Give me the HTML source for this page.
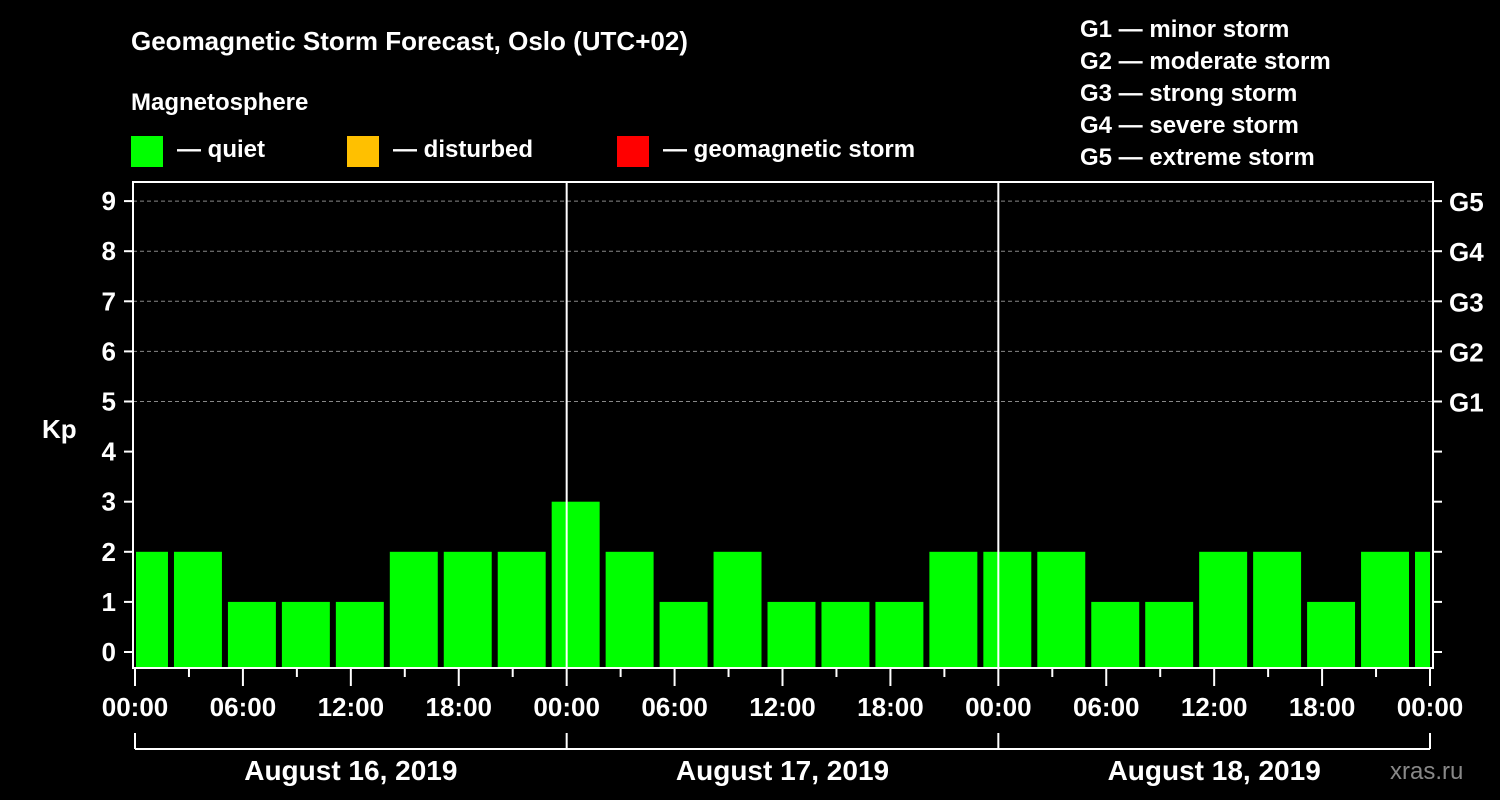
<!DOCTYPE html>
<html><head><meta charset="utf-8"><style>
body{margin:0;background:#000;}
svg{display:block;font-family:"Liberation Sans",Arial,sans-serif;font-weight:bold;}
</style></head><body>
<svg width="1500" height="800" viewBox="0 0 1500 800">
<rect width="1500" height="800" fill="#000"/>
<text x="131" y="50" font-size="26" fill="#fff">Geomagnetic Storm Forecast, Oslo (UTC+02)</text>
<text x="131" y="110" font-size="24" fill="#fff">Magnetosphere</text>
<g><rect x="131" y="136" width="32" height="31" fill="#00ff00"/><text x="177" y="157" font-size="24" fill="#fff">— quiet</text></g>
<g><rect x="347" y="136" width="32" height="31" fill="#ffc000"/><text x="393" y="157" font-size="24" fill="#fff">— disturbed</text></g>
<g><rect x="617" y="136" width="32" height="31" fill="#ff0000"/><text x="663" y="157" font-size="24" fill="#fff">— geomagnetic storm</text></g>
<g font-size="24" fill="#fff">
<text x="1080" y="37">G1 — minor storm</text>
<text x="1080" y="69">G2 — moderate storm</text>
<text x="1080" y="101">G3 — strong storm</text>
<text x="1080" y="133">G4 — severe storm</text>
<text x="1080" y="165">G5 — extreme storm</text>
</g>
<text x="42" y="438" font-size="26" fill="#fff">Kp</text>
<text x="1390" y="779" font-size="24" fill="#888" font-weight="normal">xras.ru</text>
<g id="grid"></g>
<g id="bars"></g>
<g id="axes"></g>
</svg>
<script>
const kpValues=[2,2,1,1,1,2,2,2,3,2,1,2,1,1,1,2,2,2,1,1,2,2,1,2,2];
const barStartHours=[-1,2,5,8,11,14,17,20,23,26,29,32,35,38,41,44,47,50,53,56,59,62,65,68,71];
const xTickLabels=["00:00","06:00","12:00","18:00","00:00","06:00","12:00","18:00","00:00","06:00","12:00","18:00","00:00"];
const dayLabels=["August 16, 2019","August 17, 2019","August 18, 2019"];
const yTicks=[0,1,2,3,4,5,6,7,8,9];
const gLabels=["G1","G2","G3","G4","G5"];
const NS="http://www.w3.org/2000/svg";
const L=133,R=1433,T=182,B=668,X0=135,X1=1430,H=72;
const x=h=>X0+(X1-X0)*h/H;
const y=k=>652-50.1*k;
function mk(t,a,parent){const e=document.createElementNS(NS,t);for(const k in a)e.setAttribute(k,a[k]);document.getElementById(parent).appendChild(e);return e;}
// grid
for(let k=5;k<=9;k++){const l=mk('line',{x1:L,x2:R,y1:y(k),y2:y(k),stroke:'#888','stroke-dasharray':'4,3','stroke-width':1},'grid');

}
// bars
kpValues.forEach((v,i)=>{let a=x(barStartHours[i])+3,b=x(barStartHours[i]+3)-3;a=Math.max(a,L+3);b=Math.min(b,R-3);
const c=v>=5?'#ff0000':(v>=4?'#ffc000':'#00ff00');
const r=mk('rect',{x:a,y:y(v),width:b-a,height:B-y(v),fill:c},'bars');

});
// day separators
[24,48].forEach(h=>{const l=mk('line',{x1:x(h),x2:x(h),y1:T,y2:B,stroke:'#fff','stroke-width':2},'axes');

});
const fr=mk('rect',{x:L,y:T,width:R-L,height:B-T,fill:'none',stroke:'#fff','stroke-width':2},'axes');


yTicks.forEach(k=>{mk('line',{x1:L-9,x2:L,y1:y(k),y2:y(k),stroke:'#fff','stroke-width':2},'axes');
mk('line',{x1:R,x2:R+9,y1:y(k),y2:y(k),stroke:'#fff','stroke-width':2},'axes');
const t=mk('text',{x:L-17,y:y(k)+9,'font-size':26,fill:'#fff','text-anchor':'end'},'axes');t.textContent=k;

});
gLabels.forEach((g,i)=>{const t=mk('text',{x:1449,y:y(i+5)+10,'font-size':26,fill:'#fff'},'axes');t.textContent=g;

});
for(let h=0;h<=72;h+=3){mk('line',{x1:x(h),x2:x(h),y1:B,y2:h%6==0?686:677,stroke:'#fff','stroke-width':2},'axes');}
xTickLabels.forEach((s,i)=>{const t=mk('text',{x:x(i*6),y:716,'font-size':26,fill:'#fff','text-anchor':'middle'},'axes');t.textContent=s;

});
mk('line',{x1:X0,x2:X1,y1:749,y2:749,stroke:'#fff','stroke-width':2},'axes');
[0,24,48,72].forEach(h=>mk('line',{x1:x(h),x2:x(h),y1:733,y2:749,stroke:'#fff','stroke-width':2},'axes'));
dayLabels.forEach((d,i)=>{const t=mk('text',{x:x(i*24+12),y:780,'font-size':28,fill:'#fff','text-anchor':'middle'},'axes');t.textContent=d;

});
</script>
</body></html>
